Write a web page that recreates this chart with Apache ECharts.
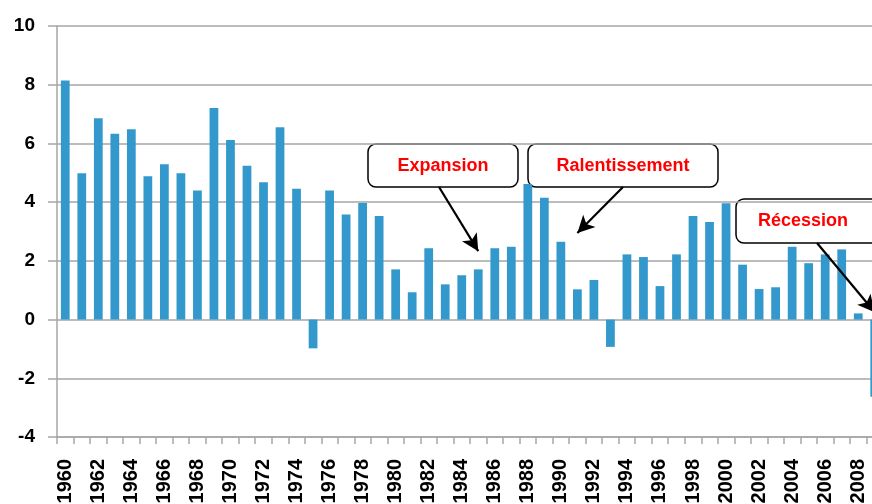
<!DOCTYPE html>
<html>
<head>
<meta charset="utf-8">
<script src="https://cdn.jsdelivr.net/npm/echarts@6/dist/echarts.min.js"></script>
<style>
  html, body { margin: 0; padding: 0; background: #fff; overflow: hidden; }
  /* the plot runs a little past the right edge of the picture */
  #main { width: 890px; height: 504px; }
</style>
</head>
<body>
<div id="main"></div>
<script>
var years = [];
for (var y = 1960; y <= 2009; y++) years.push(String(y));

var growth = [
  8.14, 4.98, 6.86, 6.33, 6.48, 4.88, 5.29, 4.98, 4.40, 7.21,
  6.12, 5.24, 4.68, 6.55, 4.46, -0.98, 4.40, 3.58, 3.97, 3.53,
  1.71, 0.93, 2.43, 1.20, 1.51, 1.71, 2.43, 2.48, 4.62, 4.15,
  2.65, 1.03, 1.35, -0.93, 2.22, 2.13, 1.14, 2.22, 3.53, 3.32,
  3.96, 1.87, 1.04, 1.10, 2.48, 1.92, 2.22, 2.39, 0.21, -2.63
];

var yTicks = { min: -4, max: 10, step: 2 };

var notes = [
  { text: 'Expansion', box: [368, 144, 150, 43], textPos: [443, 166], from: [439, 187], to: ['1985', 2.33] },
  { text: 'Ralentissement', box: [528, 144, 190, 43], textPos: [623, 166], from: [623, 187], to: ['1991', 2.95] },
  { text: 'Récession', box: [736, 199, 170, 44], textPos: [803, 221], from: [817, 243], to: ['2009', 0.25] }
];

var myChart = echarts.init(document.getElementById('main'));
var fontFamily = '"Liberation Sans", Arial, sans-serif';

var option = {
  animation: false,
  grid: { left: 57, right: 7, top: 26, bottom: 67, outerBoundsMode: 'none' },
  xAxis: {
    type: 'category',
    data: years,
    axisLine: { show: true, onZero: false, lineStyle: { color: '#a6a6a6', width: 1.5 } },
    axisTick: { show: true, interval: 0, length: 7, lineStyle: { color: '#a6a6a6', width: 1.5 } },
    axisLabel: {
      interval: 1,
      rotate: 90,
      margin: 22,
      color: '#000',
      fontWeight: 'bold',
      fontSize: 20,
      fontFamily: fontFamily
    }
  },
  yAxis: {
    type: 'value',
    min: yTicks.min,
    max: yTicks.max,
    interval: yTicks.step,
    axisLine: { show: true, lineStyle: { color: '#a6a6a6', width: 1.5 } },
    axisTick: { show: true, length: 9, lineStyle: { color: '#a6a6a6', width: 1.5 } },
    splitLine: { lineStyle: { color: '#a6a6a6', width: 1.5 } },
    axisLabel: {
      margin: 22,
      color: '#000',
      fontWeight: 'bold',
      fontSize: 19,
      fontFamily: fontFamily
    }
  },
  series: [{
    type: 'bar',
    data: growth,
    barWidth: '53%',
    itemStyle: { color: '#3399cc' },
    markLine: {
      silent: true,
      symbol: ['none', 'arrow'],
      symbolSize: [13, 17],
      label: { show: false },
      lineStyle: { color: '#000', width: 2.2, type: 'solid' },
      data: notes.map(function (n) {
        return [{ x: n.from[0], y: n.from[1] }, { coord: n.to }];
      })
    }
  }],
  graphic: notes.map(function (n) {
    return {
      type: 'group',
      z: 100,
      children: [{
        type: 'rect',
        shape: { x: n.box[0], y: n.box[1], width: n.box[2], height: n.box[3], r: 8 },
        style: { fill: '#fff', stroke: '#000', lineWidth: 1.5 }
      }, {
        type: 'text',
        x: n.textPos[0],
        y: n.textPos[1],
        style: {
          text: n.text,
          fill: '#ff0000',
          font: 'bold 18px ' + fontFamily,
          align: 'center',
          verticalAlign: 'middle'
        }
      }]
    };
  })
};

myChart.setOption(option);
</script>
</body>
</html>
